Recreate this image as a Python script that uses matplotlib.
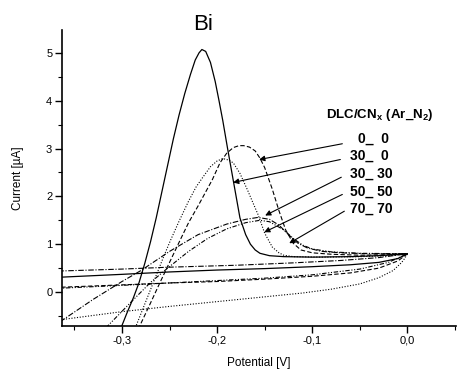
import matplotlib
matplotlib.use("Agg")
import matplotlib.pyplot as plt
from matplotlib.ticker import MultipleLocator, FuncFormatter

plt.rcParams['font.family'] = ['Liberation Sans', 'DejaVu Sans']
plt.rcParams['mathtext.fontset'] = 'custom'
plt.rcParams['mathtext.rm'] = 'Liberation Sans'
plt.rcParams['mathtext.bf'] = 'Liberation Sans:bold'

# each curve: anodic sweep (rising from the bottom, through the peak, to 0 V)
# followed by the cathodic branch back to the left edge
solid_x = [-0.302, -0.295, -0.288, -0.282, -0.276, -0.270, -0.264, -0.258, -0.252, -0.246,
           -0.240, -0.234, -0.228, -0.223, -0.219, -0.216, -0.212, -0.207, -0.202, -0.198,
           -0.194, -0.189, -0.183, -0.176, -0.170, -0.165, -0.160, -0.155, -0.145, -0.130,
           -0.100, -0.060, -0.030, 0.0,
           -0.010, -0.030, -0.060, -0.100, -0.150, -0.200, -0.250, -0.300, -0.365]
solid_y = [-0.80, -0.45, -0.12, 0.20, 0.60, 1.05, 1.55, 2.10, 2.65, 3.20,
           3.70, 4.15, 4.55, 4.85, 5.00, 5.07, 5.03, 4.80, 4.40, 4.00,
           3.58, 3.00, 2.33, 1.55, 1.20, 1.00, 0.88, 0.81, 0.76, 0.74,
           0.73, 0.74, 0.76, 0.80,
           0.70, 0.62, 0.57, 0.53, 0.49, 0.46, 0.42, 0.37, 0.31]

dashed_x = [-0.283, -0.270, -0.260, -0.250, -0.239, -0.230, -0.220, -0.211, -0.205, -0.197,
            -0.190, -0.183, -0.177, -0.172, -0.166, -0.160, -0.155, -0.150, -0.142, -0.135,
            -0.128, -0.120, -0.112, -0.100, -0.080, -0.050, -0.020, 0.0,
            -0.010, -0.030, -0.060, -0.100, -0.150, -0.200, -0.250, -0.300, -0.365]
dashed_y = [-0.78, -0.23, 0.20, 0.62, 1.08, 1.45, 1.80, 2.13, 2.35, 2.70,
            2.90, 3.02, 3.06, 3.06, 3.03, 2.95, 2.80, 2.60, 2.15, 1.70,
            1.30, 1.02, 0.88, 0.82, 0.79, 0.77, 0.78, 0.80,
            0.65, 0.50, 0.40, 0.33, 0.27, 0.22, 0.19, 0.15, 0.10]

dotted_x = [-0.287, -0.278, -0.270, -0.262, -0.256, -0.249, -0.240, -0.230, -0.222, -0.215,
            -0.207, -0.200, -0.194, -0.188, -0.183, -0.176, -0.168, -0.162, -0.157, -0.150,
            -0.142, -0.135, -0.130, -0.120, -0.090, -0.050, -0.020, 0.0,
            -0.003, -0.006, -0.015, -0.030, -0.050, -0.080, -0.110, -0.150, -0.200, -0.250,
            -0.300, -0.365]
dotted_y = [-0.80, -0.35, 0.05, 0.45, 0.75, 1.08, 1.48, 1.90, 2.20, 2.40,
            2.62, 2.74, 2.79, 2.76, 2.70, 2.48, 2.13, 1.85, 1.62, 1.23,
            0.94, 0.82, 0.77, 0.74, 0.73, 0.74, 0.76, 0.80,
            0.70, 0.62, 0.45, 0.30, 0.17, 0.06, -0.02, -0.10, -0.20, -0.30,
            -0.41, -0.58]

dashdot_x = [-0.365, -0.330, -0.300, -0.280, -0.250, -0.220, -0.190, -0.170, -0.157, -0.145,
             -0.135, -0.125, -0.115, -0.105, -0.090, -0.070, -0.040, 0.0,
             -0.030, -0.070, -0.120, -0.180, -0.250, -0.300, -0.365]
dashdot_y = [-0.62, -0.15, 0.22, 0.45, 0.85, 1.20, 1.42, 1.52, 1.56, 1.52,
             1.40, 1.20, 1.02, 0.92, 0.85, 0.82, 0.80, 0.80,
             0.72, 0.66, 0.61, 0.56, 0.52, 0.48, 0.44]

dashdotdot_x = [-0.317, -0.290, -0.270, -0.252, -0.230, -0.210, -0.190, -0.170, -0.155, -0.145,
                -0.130, -0.120, -0.110, -0.100, -0.080, -0.050, 0.0,
                -0.020, -0.050, -0.100, -0.150, -0.200, -0.250, -0.300, -0.365]
dashdotdot_y = [-0.75, -0.20, 0.20, 0.50, 0.85, 1.12, 1.32, 1.45, 1.50, 1.47,
                1.30, 1.12, 0.98, 0.90, 0.84, 0.81, 0.80,
                0.62, 0.48, 0.36, 0.29, 0.24, 0.19, 0.14, 0.08]

sample_labels = ["0_  0", "30_  0", "30_ 30", "50_ 50", "70_ 70"]
label_x = [-0.052, -0.060, -0.060, -0.060, -0.060]
label_y = [3.20, 2.85, 2.47, 2.10, 1.74]
arrow_tail_x = [-0.0684, -0.0705, -0.0695, -0.0684, -0.0663]
arrow_tail_y = [3.10, 2.77, 2.40, 2.04, 1.69]
arrow_tip_x = [-0.1558, -0.1832, -0.1495, -0.1505, -0.1242]
arrow_tip_y = [2.77, 2.29, 1.60, 1.25, 1.02]

fig = plt.figure(figsize=(4.57, 3.69), dpi=100)
ax = fig.add_axes([0.1357, 0.1165, 0.862, 0.8025])

ax.plot(solid_x, solid_y, color='black', lw=0.9, ls='-')
ax.plot(dashed_x, dashed_y, color='black', lw=0.8, ls=(0, (4, 2)))
ax.plot(dotted_x, dotted_y, color='black', lw=0.8, ls=(0, (1, 1.5)))
ax.plot(dashdot_x, dashdot_y, color='black', lw=0.8, ls=(0, (5, 1.5, 1, 1.5)))
ax.plot(dashdotdot_x, dashdotdot_y, color='black', lw=0.8, ls=(0, (4, 1.5, 1, 1.5, 1, 1.5)))

ax.set_xlim(-0.363, 0.051)
ax.set_ylim(-0.71, 5.48)

for sp in ['top', 'right']:
    ax.spines[sp].set_visible(False)
for sp in ['left', 'bottom']:
    ax.spines[sp].set_linewidth(1.2)

ax.xaxis.set_major_locator(MultipleLocator(0.1))
ax.xaxis.set_minor_locator(MultipleLocator(0.05))
ax.yaxis.set_major_locator(MultipleLocator(1))
ax.yaxis.set_minor_locator(MultipleLocator(0.5))
ax.xaxis.set_major_formatter(FuncFormatter(lambda v, p: ("%.1f" % v).replace('.', ',').replace('-0,0', '0,0')))
ax.yaxis.set_major_formatter(FuncFormatter(lambda v, p: "%d" % round(v)))
ax.tick_params(which='major', direction='out', length=5, width=1, labelsize=8, pad=2)
ax.tick_params(which='minor', direction='out', length=3, width=0.8)

ax.set_xlabel("Potential [V]", fontsize=8.5, labelpad=8)
ax.set_ylabel("Current [\u00b5A]", fontsize=8.5, labelpad=16)

fig.text(203 / 457, 1 - 24 / 369, "Bi", fontsize=16, ha='center', va='center')

ax.text(-0.086, 3.70, r"$\mathbf{DLC/CN_x\ (Ar\_N_2)}$", fontsize=9.5, ha='left', va='center')

for i in range(len(sample_labels)):
    ax.text(label_x[i], label_y[i], sample_labels[i], fontsize=10, fontweight='bold',
            ha='left', va='center')
    ax.annotate("", xy=(arrow_tip_x[i], arrow_tip_y[i]), xytext=(arrow_tail_x[i], arrow_tail_y[i]),
                arrowprops=dict(arrowstyle='-|>', color='black', lw=0.8,
                                mutation_scale=8, shrinkA=0, shrinkB=0))

fig.savefig("out.png", dpi=100)
